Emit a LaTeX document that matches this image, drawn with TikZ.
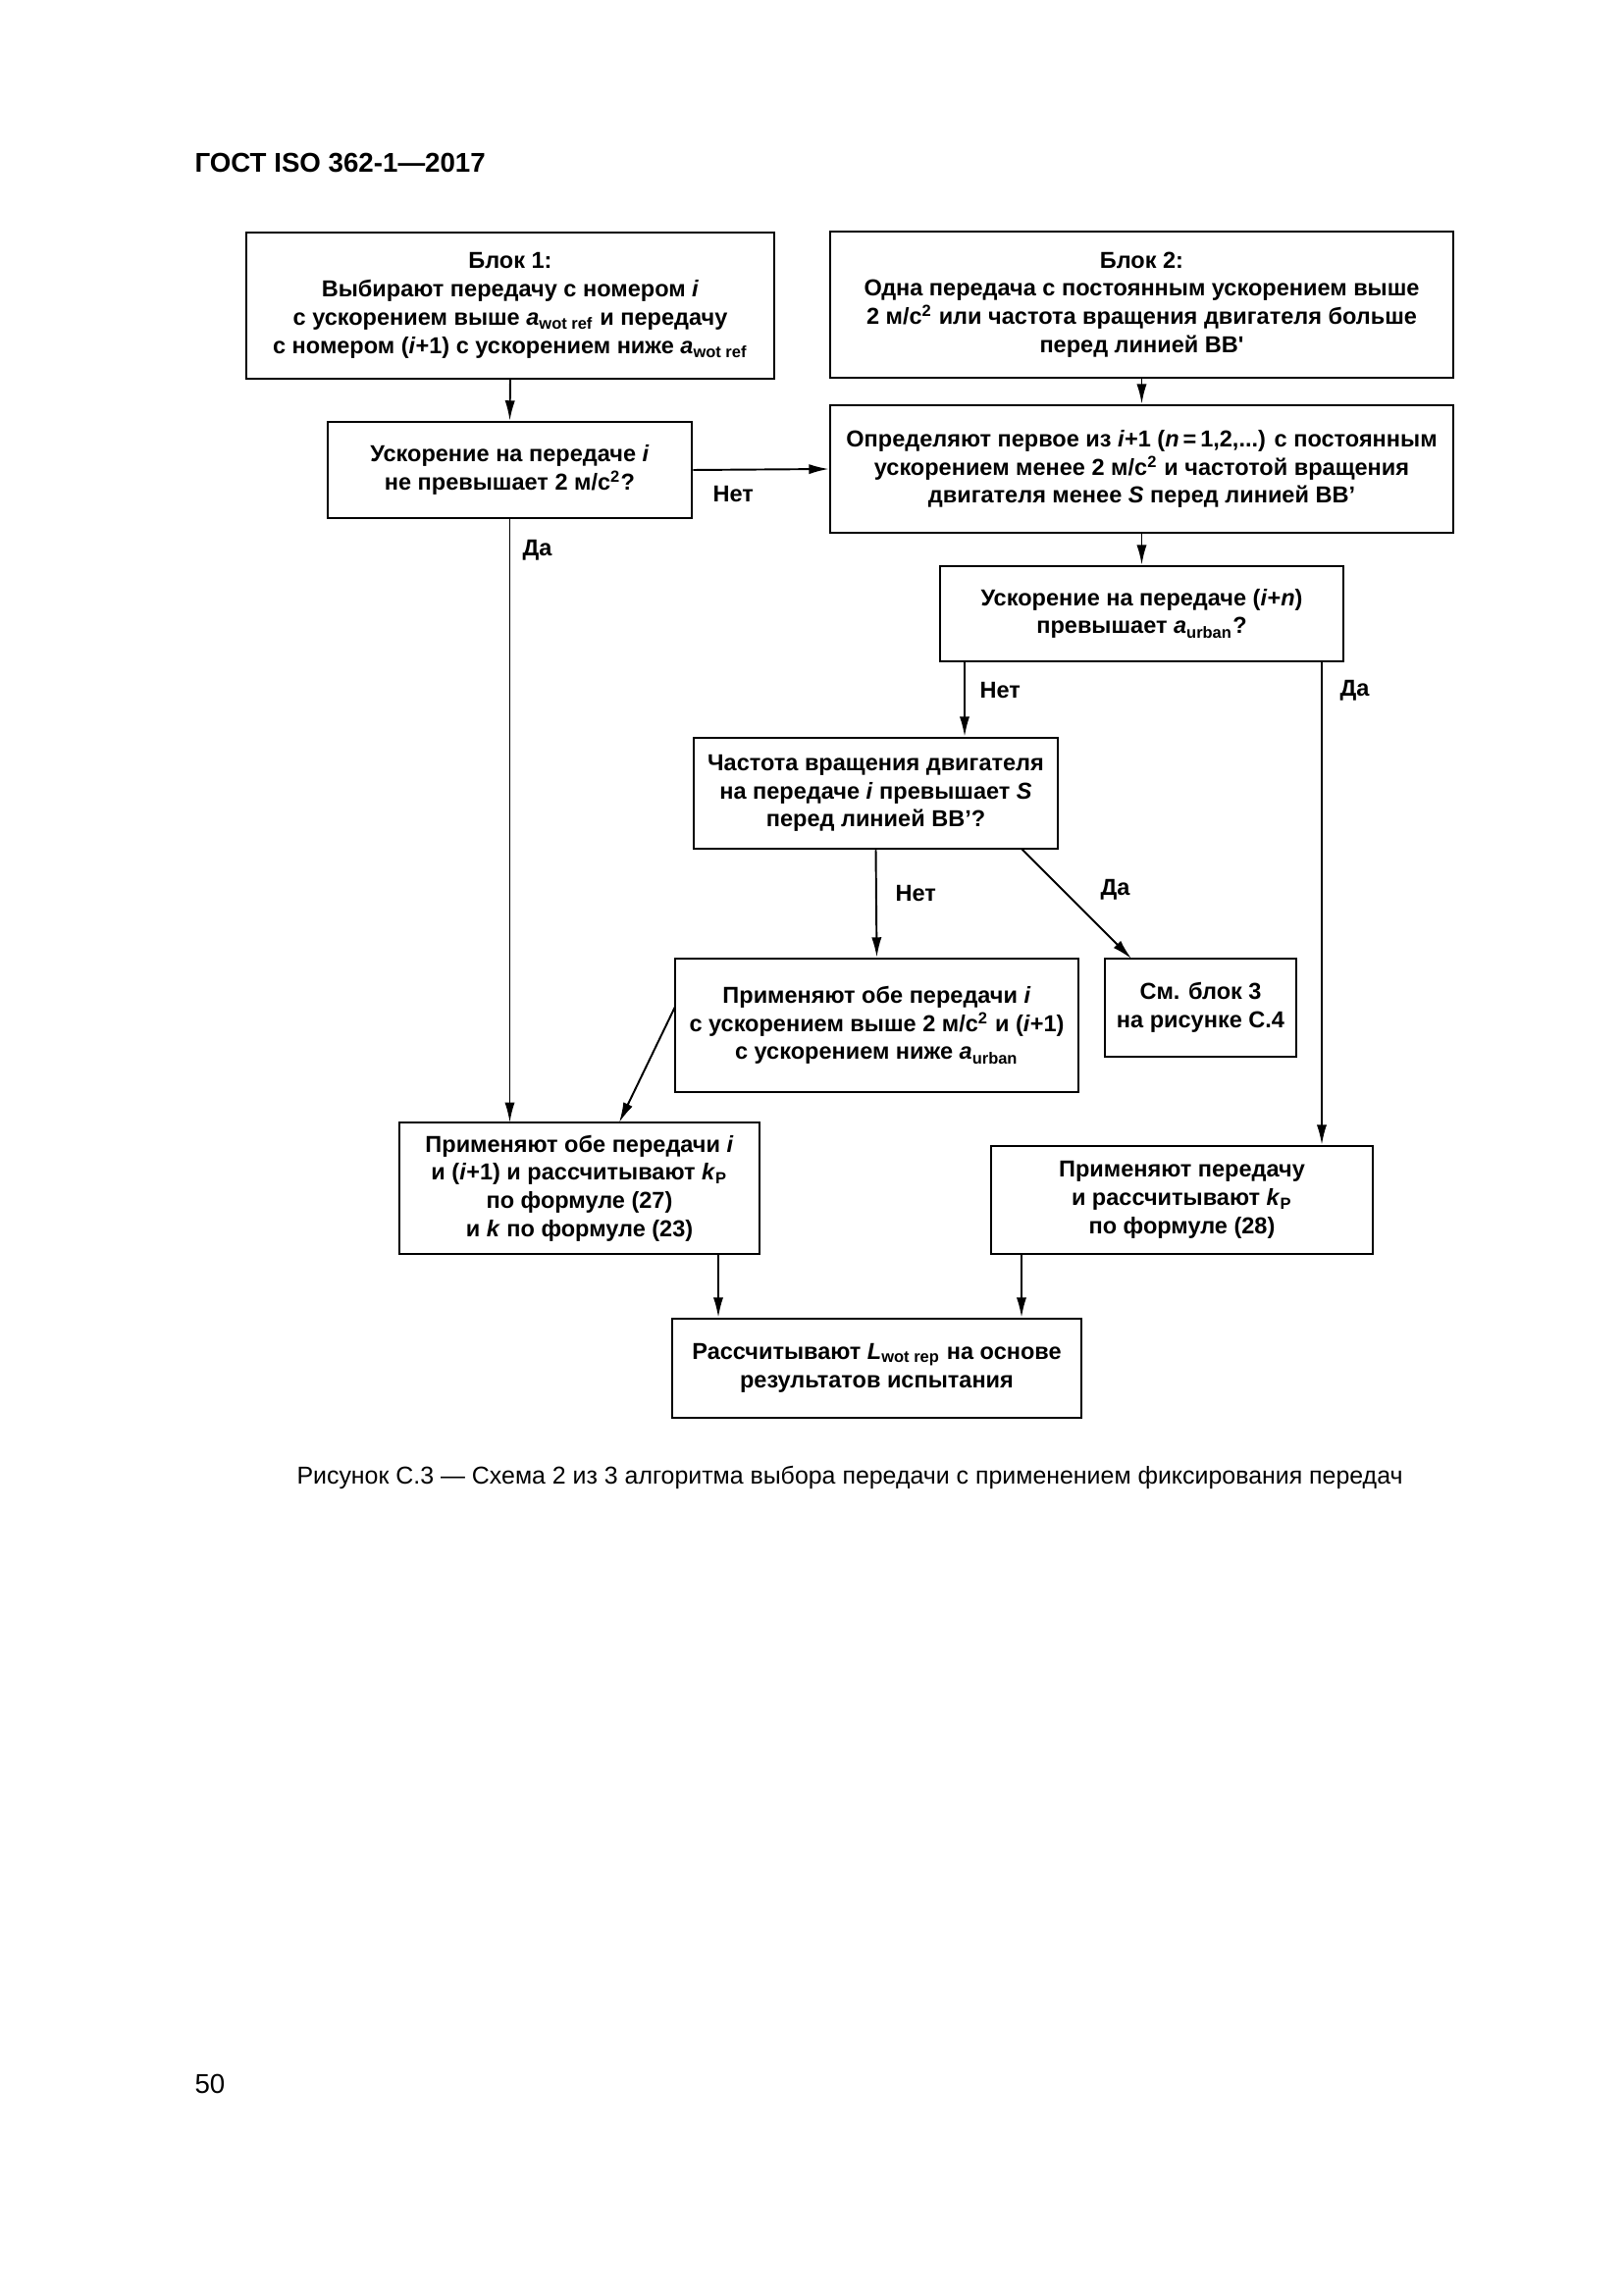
\documentclass[tikz,border=0pt]{standalone}
\usepackage{fontspec}
\setmainfont{Liberation Sans}
\usepackage{tikz}
\usetikzlibrary{arrows.meta}
\newdimen\pxu
\pxu=0.012697cm
\tikzset{
  blockbox/.style={rectangle, draw, line width=0.9pt, align=center, inner sep=0pt, font=\fontsize{8.5}{10.4}\selectfont\bfseries},
  flowarrow/.style={line width=0.7pt, -{Latex[length=2.6mm,width=1.3mm]}},
  flowline/.style={line width=0.7pt},
  answer/.style={anchor=west, inner sep=0pt, font=\fontsize{8.5}{10.4}\selectfont\bfseries}
}

\begin{document}
\begin{tikzpicture}[x=0.012697cm, y=-0.012697cm]
\useasboundingbox (0,0) rectangle (1654,2339);
\node[anchor=base west, inner sep=0pt, font=\fontsize{10}{12}\selectfont\bfseries] (header) at (198,176) {ГОСТ ISO 362-1—2017};
\node[blockbox, minimum width=538\pxu, minimum height=149\pxu] (block1) at (520,311.5) {Блок 1:\\ Выбирают передачу с номером \textit{i}\\ с ускорением выше \textit{a}\textsubscript{wot ref} и передачу\\ с номером (\textit{i}+1) с ускорением ниже \textit{a}\textsubscript{wot ref}};
\node[blockbox, minimum width=635\pxu, minimum height=149\pxu] (block2) at (1163.5,310.5) {Блок 2:\\ Одна передача с постоянным ускорением выше\\ 2 м/с\textsuperscript{2} или частота вращения двигателя больше\\ перед линией BB\textquotesingle};
\node[blockbox, minimum width=371\pxu, minimum height=98\pxu] (quest1) at (519.5,479) {Ускорение на передаче \textit{i}\\ не превышает 2 м/с\textsuperscript{2}?};
\node[blockbox, minimum width=635\pxu, minimum height=130\pxu] (define) at (1163.5,478) {Определяют первое из \textit{i}+1 (\textit{n}\,=\,1,2,...) с постоянным\\ ускорением менее 2 м/с\textsuperscript{2} и частотой вращения\\ двигателя менее \textit{S} перед линией BB’};
\node[blockbox, minimum width=411\pxu, minimum height=97\pxu] (quest2) at (1163.5,625.5) {Ускорение на передаче (\textit{i}+\textit{n})\\ превышает \textit{a}\textsubscript{urban}?};
\node[blockbox, minimum width=371\pxu, minimum height=113\pxu] (quest3) at (892.5,808.5) {Частота вращения двигателя\\ на передаче \textit{i} превышает \textit{S}\\ перед линией BB’?};
\node[blockbox, minimum width=411\pxu, minimum height=136\pxu] (applyurban) at (893.5,1045) {Применяют обе передачи \textit{i}\\ с ускорением выше 2 м/с\textsuperscript{2} и (\textit{i}+1)\\ с ускорением ниже \textit{a}\textsubscript{urban}};
\node[blockbox, minimum width=195\pxu, minimum height=100\pxu] (block3) at (1223.5,1027) {См. блок 3\\ на рисунке С.4};
\node[blockbox, minimum width=367\pxu, minimum height=134\pxu] (applyboth) at (590.5,1211) {Применяют обе передачи \textit{i}\\ и (\textit{i}+1) и рассчитывают \textit{k}\textsubscript{P}\\ по формуле (27)\\ и \textit{k} по формуле (23)};
\node[blockbox, minimum width=389\pxu, minimum height=110\pxu] (applyone) at (1204.5,1223) {Применяют передачу\\ и рассчитывают \textit{k}\textsubscript{P}\\ по формуле (28)};
\node[blockbox, minimum width=417\pxu, minimum height=101\pxu] (result) at (893.5,1394.5) {Рассчитывают \textit{L}\textsubscript{wot rep} на основе\\ результатов испытания};
\node[inner sep=0pt, font=\fontsize{9}{11}\selectfont] (caption) at (866,1506) {Рисунок С.3 — Схема 2 из 3 алгоритма выбора передачи с применением фиксирования передач};
\node[anchor=base west, inner sep=0pt, font=\fontsize{10}{12}\selectfont] (pagenum) at (198,2133) {50};
\coordinate (q1turn) at (519.5,1144);
\coordinate (q2no) at (983,674);
\coordinate (q2yes) at (1347,674);
\coordinate (q3yes) at (1041,865);
\coordinate (urbanout) at (688,1026);
\coordinate (bothout) at (732,1278);
\coordinate (oneout) at (1041,1278);
\draw[flowarrow] (block1.south) -- (quest1.north);
\draw[flowarrow] (block2.south) -- (define.north);
\draw[flowarrow] (quest1.east) -- (define.west);
\draw[flowarrow] (quest1.south) -- (q1turn);
\draw[flowarrow] (define.south) -- (quest2.north);
\draw[flowarrow] (q2no) -- (q2no |- quest3.north);
\draw[flowarrow] (q2yes) -- (q2yes |- applyone.north);
\draw[flowarrow] (quest3.south) -- (applyurban.north);
\draw[flowarrow] (q3yes) -- (1153,977);
\draw[flowarrow] (urbanout) -- (631,1144);
\draw[flowarrow] (bothout) -- (bothout |- result.north);
\draw[flowarrow] (oneout) -- (oneout |- result.north);
\node[answer] (no1) at (726,504) {Нет};
\node[answer] (yes1) at (532,561) {Да};
\node[answer] (no2) at (998,704) {Нет};
\node[answer] (yes2) at (1365,704) {Да};
\node[answer] (no3) at (912,911) {Нет};
\node[answer] (yes3) at (1121,907) {Да};
\end{tikzpicture}
\end{document}
